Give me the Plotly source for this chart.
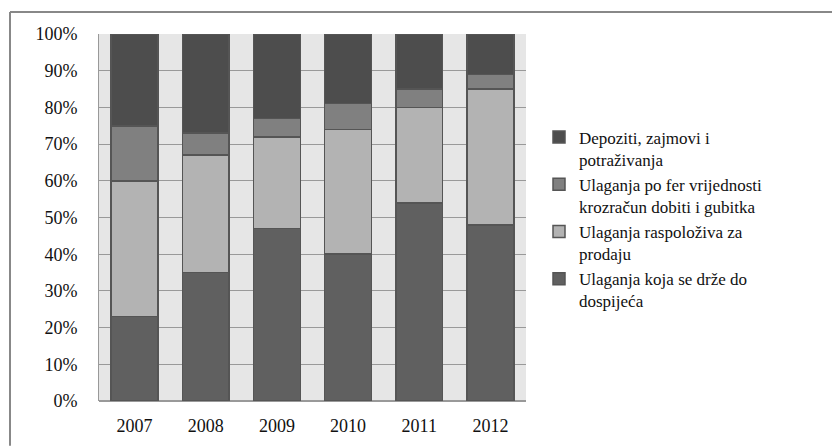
import plotly.graph_objects as go

years = ["2007", "2008", "2009", "2010", "2011", "2012"]
held_to_maturity = [23, 35, 47, 40, 54, 48]
available_for_sale = [37, 32, 25, 34, 26, 37]
fair_value = [15, 6, 5, 7, 5, 4]
deposits_loans = [25, 27, 23, 19, 15, 11]

series_names = [
    "Ulaganja koja se drže do<br>dospijeća",
    "Ulaganja raspoloživa za<br>prodaju",
    "Ulaganja po fer vrijednosti<br>krozračun dobiti i gubitka",
    "Depoziti, zajmovi i<br>potraživanja",
]
series_values = [held_to_maturity, available_for_sale, fair_value, deposits_loans]
series_colors = ["#606060", "#b3b3b3", "#808080", "#4d4d4d"]
tick_vals = [0, 10, 20, 30, 40, 50, 60, 70, 80, 90, 100]
tick_text = [f"{v}%" for v in tick_vals]

fig = go.Figure()
for name, vals, col in zip(series_names, series_values, series_colors):
    fig.add_trace(go.Bar(
        x=years, y=vals, name=name,
        marker=dict(color=col, line=dict(color="#555555", width=1.5)),
    ))

font_family = "Liberation Serif"
W, H = 832, 440
ML, MR, MT, MB = 91, 314, 26, 45
PW, PH = W - ML - MR, H - MT - MB

fig.update_layout(
    barmode="stack",
    bargap=0.34,
    width=W, height=H,
    margin=dict(l=ML, r=MR, t=MT, b=MB),
    paper_bgcolor="white",
    plot_bgcolor="#e6e6e6",
    font=dict(family=font_family, size=18, color="#111111"),
    showlegend=True,
    legend=dict(
        traceorder="reversed",
        x=(539 - 8 - ML) / PW, xanchor="left",
        y=1 - (120 - 8 - MT) / PH, yanchor="top",
        valign="top",
        font=dict(family=font_family, size=17, color="#111111"),
        itemwidth=30,
        bgcolor="rgba(0,0,0,0)",
    ),
    xaxis=dict(
        showgrid=False, showline=False, ticks="",
        tickfont=dict(family=font_family, size=18),
        ticklabelstandoff=12,
    ),
    yaxis=dict(
        range=[0, 100],
        tickvals=tick_vals, ticktext=tick_text,
        showgrid=True, gridcolor="#999999", gridwidth=1,
        showline=True, linecolor="#999999", linewidth=1,
        zeroline=True, zerolinecolor="#999999",
        ticks="", tickfont=dict(family=font_family, size=18),
        ticklabelstandoff=17,
    ),
    shapes=[
        dict(type="line", xref="paper", yref="paper",
             x0=(2 - ML) / PW, x1=(W - ML) / PW,
             y0=(H - MB - 4) / PH, y1=(H - MB - 4) / PH,
             line=dict(color="#888888", width=2)),
        dict(type="line", xref="paper", yref="paper",
             x0=(2 - ML) / PW, x1=(2 - ML) / PW,
             y0=(H - MB - 4) / PH, y1=-MB / PH,
             line=dict(color="#888888", width=2)),
    ],
)

fig.write_html("out.html")
